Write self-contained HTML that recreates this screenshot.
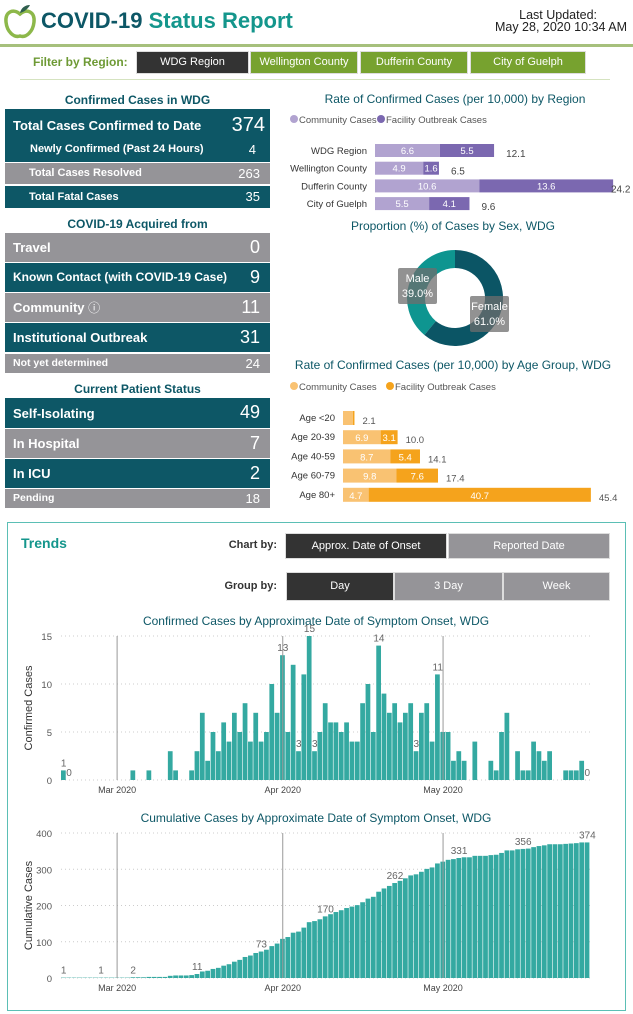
<!DOCTYPE html>
<html><head><meta charset="utf-8">
<style>
*{margin:0;padding:0;box-sizing:border-box}
body{width:633px;height:1014px;background:#fff;font-family:"Liberation Sans",sans-serif;position:relative;overflow:hidden}
.a{position:absolute}
.box{position:absolute;left:5px;width:265px;color:#fff;font-weight:bold}
.box .l{position:absolute;left:8px}
.box .v{position:absolute;right:10px;font-weight:normal}
.t{background:#0d5766}.g{background:#959498}
.st{position:absolute;left:5px;width:265px;text-align:center;color:#0d5766;font-weight:bold;font-size:12px}
.btn{position:absolute;color:#fff;font-size:11px;text-align:center;border:1px solid #ddd}
</style></head><body>
<svg class="a" style="left:3px;top:4px" width="34" height="36"><path d="M17 10 C10 4 2 8 3 18 C4 28 11 34 17 32 C23 34 30 28 31 18 C32 8 24 4 17 10Z" fill="none" stroke="#8db84a" stroke-width="3.5"/><path d="M17 9 C18 4 22 1 27 1 C25 5 21 8 17 9Z" fill="#2e5e4e"/></svg>
<div class="a" style="left:41px;top:8px;font-size:22px;font-weight:bold;color:#0d5766">COVID-19 <span style="color:#14968c">Status Report</span></div>
<div class="a" style="right:6px;top:9px;font-size:12.5px;text-align:right;color:#222;line-height:12px"><span style="margin-right:30px">Last Updated:</span><br>May 28, 2020 10:34 AM</div>
<div class="a" style="left:0;top:44px;width:633px;height:3px;background:#a6c07c"></div>
<div class="a" style="left:33px;top:55px;font-size:12px;font-weight:bold;color:#6e9a35">Filter by Region:</div>
<div class="btn" style="left:136px;top:51px;width:113px;height:23px;line-height:21px;background:#333">WDG Region</div>
<div class="btn" style="left:250px;top:51px;width:108px;height:23px;line-height:21px;background:#77a22f">Wellington County</div>
<div class="btn" style="left:360px;top:51px;width:108px;height:23px;line-height:21px;background:#77a22f">Dufferin County</div>
<div class="btn" style="left:470px;top:51px;width:116px;height:23px;line-height:21px;background:#77a22f">City of Guelph</div>
<div class="a" style="left:20px;top:79px;width:590px;height:1px;background:#d5e3c0"></div>

<div class="st" style="top:93px">Confirmed Cases in WDG</div>
<div class="box t" style="top:109px;height:53px"><span class="l" style="top:9px;font-size:13px">Total Cases Confirmed to Date</span><span class="v" style="top:5px;font-size:20px;right:5px">374</span><span class="l" style="left:25px;top:34px;font-size:11px">Newly Confirmed (Past 24 Hours)</span><span class="v" style="top:33px;font-size:13px;right:14px">4</span></div>
<div class="box g" style="top:163px;height:21px"><span class="l" style="left:24px;top:4px;font-size:11px">Total Cases Resolved</span><span class="v" style="top:3px;font-size:13px">263</span></div>
<div class="box t" style="top:186px;height:22px"><span class="l" style="left:24px;top:5px;font-size:11px">Total Fatal Cases</span><span class="v" style="top:3px;font-size:13px">35</span></div>

<div class="st" style="top:217px">COVID-19 Acquired from</div>
<div class="box g" style="top:233px;height:29px"><span class="l" style="top:7px;font-size:13px">Travel</span><span class="v" style="top:4px;font-size:18px">0</span></div>
<div class="box t" style="top:263px;height:29px"><span class="l" style="top:7px;font-size:12px">Known Contact (with COVID-19 Case)</span><span class="v" style="top:4px;font-size:18px">9</span></div>
<div class="box g" style="top:293px;height:29px"><span class="l" style="top:6px;font-size:13px">Community <span style="font-weight:normal;font-size:12px">ⓘ</span></span><span class="v" style="top:4px;font-size:18px">11</span></div>
<div class="box t" style="top:323px;height:29px"><span class="l" style="top:7px;font-size:13px">Institutional Outbreak</span><span class="v" style="top:4px;font-size:18px">31</span></div>
<div class="box g" style="top:354px;height:19px"><span class="l" style="top:3px;font-size:10.5px">Not yet determined</span><span class="v" style="top:2px;font-size:13px">24</span></div>

<div class="st" style="top:382px">Current Patient Status</div>
<div class="box t" style="top:398px;height:30px"><span class="l" style="top:8px;font-size:13px">Self-Isolating</span><span class="v" style="top:4px;font-size:18px">49</span></div>
<div class="box g" style="top:429px;height:29px"><span class="l" style="top:7px;font-size:13px">In Hospital</span><span class="v" style="top:4px;font-size:18px">7</span></div>
<div class="box t" style="top:459px;height:29px"><span class="l" style="top:7px;font-size:13px">In ICU</span><span class="v" style="top:4px;font-size:18px">2</span></div>
<div class="box g" style="top:489px;height:19px"><span class="l" style="top:3px;font-size:10.5px">Pending</span><span class="v" style="top:2px;font-size:13px">18</span></div>

<svg id="right" class="a" style="left:0;top:0" width="633" height="515"></svg>

<div class="a" style="left:7px;top:522px;width:619px;height:489px;border:1px solid #5bbfb5"></div>
<div class="a" style="left:21px;top:535px;font-size:14px;font-weight:bold;color:#14968c">Trends</div>
<div class="a" style="left:200px;top:539px;width:77px;text-align:right;font-size:11px;font-weight:bold;color:#333">Chart by:</div>
<div class="btn" style="left:285px;top:533px;width:162px;height:26px;line-height:24px;background:#333">Approx. Date of Onset</div>
<div class="btn" style="left:448px;top:533px;width:162px;height:26px;line-height:24px;background:#959498">Reported Date</div>
<div class="a" style="left:200px;top:580px;width:77px;text-align:right;font-size:11px;font-weight:bold;color:#333">Group by:</div>
<div class="btn" style="left:286px;top:572px;width:108px;height:29px;line-height:27px;background:#333">Day</div>
<div class="btn" style="left:394px;top:572px;width:109px;height:29px;line-height:27px;background:#959498">3 Day</div>
<div class="btn" style="left:503px;top:572px;width:107px;height:29px;line-height:27px;background:#959498">Week</div>

<svg id="trend" class="a" style="left:0;top:0" width="633" height="1014"></svg>

<script>
// Region chart data
const regions=["WDG Region","Wellington County","Dufferin County","City of Guelph"];
const regionCommunity=[6.6,4.9,10.6,5.5];
const regionFacility=[5.5,1.6,13.6,4.1];
const regionTotal=[12.1,6.5,24.2,9.6];
// Sex donut data
const sexLabels=["Male","Female"];
const sexPct=[39.0,61.0];
// Age chart data
const ages=["Age <20","Age 20-39","Age 40-59","Age 60-79","Age 80+"];
const ageCommunity=[1.8,6.9,8.7,9.8,4.7];
const ageFacility=[0.3,3.1,5.4,7.6,40.7];
const ageTotal=[2.1,10.0,14.1,17.4,45.4];
// Daily cases by onset (starting ~Feb 20, 2020)
const dailyCases=[1,0,0,0,0,0,0,0,0,0,0,0,0,1,0,0,1,0,0,0,3,1,0,0,1,
3,7,2,5,3,6,4,7,5,8,4,7,4,5,10,7,13,5,12,3,11,15,3,5,8,6,6,
5,6,4,4,8,10,5,14,9,7,8,6,7,8,3,7,8,4,11,5,5,2,3,2,0,4,0,0,2,1,5,7,0,3,1,1,4,3,2,3,0,0,1,1,1,2,0];
const dailyLabelIdx=[0,1,41,44,46,47,59,66,70,98];
const cumLabelIdx=[0,7,13,25,37,49,62,74,86,98];
const monthLabels=["Mar 2020","Apr 2020","May 2020"];
const monthIdx=[10.5,41.5,71.5];
const dailyTicks=[0,5,10,15];
const cumTicks=[0,100,200,300,400];

const NS="http://www.w3.org/2000/svg";
function mk(svg,tag,attrs,txt){const e=document.createElementNS(NS,tag);for(const k in attrs)e.setAttribute(k,attrs[k]);if(txt!==undefined)e.textContent=txt;svg.appendChild(e);return e;}
const F='"Liberation Sans",sans-serif';
const R=document.getElementById('right');

// Region chart
let t=mk(R,'text',{x:455,y:103,'text-anchor':'middle','font-size':12,fill:'#0d5766','font-family':F},"Rate of Confirmed Cases (per 10,000) by Region");

[["Community Cases",'#b1a3d0',290],["Facility Outbreak Cases",'#7b68b0',377]].forEach(([n,c,x])=>{
 let g=mk(R,'g',{});
 mk(g,'circle',{cx:x+4,cy:119,r:4,fill:c});mk(g,'text',{x:x+9,y:123,'font-size':9.5,fill:'#555','font-family':F},n);});
const rx=v=>375+v*9.84;
regions.forEach((r,i)=>{const y=144+i*17.7;
 let l=mk(R,'text',{x:367,y:y+10,'text-anchor':'end','font-size':9.5,fill:'#333','font-family':F},r);
 let b=mk(R,'rect',{x:rx(0),y:y,width:rx(regionCommunity[i])-rx(0),height:13,fill:'#b1a3d0'});
 let b2=mk(R,'rect',{x:rx(regionCommunity[i]),y:y,width:rx(regionFacility[i])-rx(0),height:13,fill:'#7b68b0'});
 mk(R,'text',{x:(rx(0)+rx(regionCommunity[i]))/2,y:y+10,'text-anchor':'middle','font-size':9.5,fill:'#fff','font-family':F},regionCommunity[i].toFixed(1));
 mk(R,'text',{x:rx(regionCommunity[i])+(rx(regionFacility[i])-rx(0))/2,y:y+10,'text-anchor':'middle','font-size':9.5,fill:'#fff','font-family':F},regionFacility[i].toFixed(1));
 mk(R,'text',{x:Math.min(rx(regionTotal[i])+12,611),y:y+13,'font-size':10,fill:'#444','font-family':F},regionTotal[i].toFixed(1));
});

// Donut
t=mk(R,'text',{x:453,y:230,'text-anchor':'middle','font-size':12,fill:'#0d5766','font-family':F},"Proportion (%) of Cases by Sex, WDG");

const cx=455,cy=298,ro=48,ri=30;const cols=['#0e9590','#0b5565'];
function arc(s,e,dir){const pt=(a,r)=>[cx+r*Math.sin(a*dir),cy-r*Math.cos(a*dir)];const L=(e-s)>Math.PI?1:0;const sw=dir>0?1:0;
 const [x1,y1]=pt(s,ro),[x2,y2]=pt(e,ro),[x3,y3]=pt(e,ri),[x4,y4]=pt(s,ri);
 return `M${x1} ${y1}A${ro} ${ro} 0 ${L} ${sw} ${x2} ${y2}L${x3} ${y3}A${ri} ${ri} 0 ${L} ${1-sw} ${x4} ${y4}Z`;}
let s1=mk(R,'path',{d:arc(0,2*Math.PI*sexPct[0]/100,-1),fill:cols[0]});
let s2=mk(R,'path',{d:arc(0,2*Math.PI*sexPct[1]/100-0.0001,1),fill:cols[1]});
[[398,268,sexLabels[0],sexPct[0]],[470,296,sexLabels[1],sexPct[1]]].forEach(([x,y,n,p])=>{
 let g=mk(R,'g',{});
 mk(g,'rect',{x:x,y:y,width:39,height:36,rx:2,fill:'rgba(110,110,110,0.75)'});
 mk(g,'text',{x:x+19.5,y:y+14,'text-anchor':'middle','font-size':11,fill:'#fff','font-family':F},n);
 mk(g,'text',{x:x+19.5,y:y+29,'text-anchor':'middle','font-size':11,fill:'#fff','font-family':F},p.toFixed(1)+'%');});

// Age chart
t=mk(R,'text',{x:453,y:369,'text-anchor':'middle','font-size':12,fill:'#0d5766','font-family':F},"Rate of Confirmed Cases (per 10,000) by Age Group, WDG");

[["Community Cases",'#f9c272',290],["Facility Outbreak Cases",'#f5a31c',386]].forEach(([n,c,x])=>{
 let g=mk(R,'g',{});
 mk(g,'circle',{cx:x+4,cy:386,r:4,fill:c});mk(g,'text',{x:x+9,y:390,'font-size':9.5,fill:'#555','font-family':F},n);});
const ax=v=>343+v*5.46;
ages.forEach((r,i)=>{const y=411+i*19.2;
 let l=mk(R,'text',{x:335,y:y+10,'text-anchor':'end','font-size':9.5,fill:'#333','font-family':F},r);
 let b=mk(R,'rect',{x:ax(0),y:y,width:ax(ageCommunity[i])-ax(0),height:14,fill:'#f9c272'});
 let b2=mk(R,'rect',{x:ax(ageCommunity[i]),y:y,width:ax(ageFacility[i])-ax(0),height:14,fill:'#f5a31c'});
 if(ageCommunity[i]>3){mk(R,'text',{x:(ax(0)+ax(ageCommunity[i]))/2,y:y+11,'text-anchor':'middle','font-size':9.5,fill:'#fff','font-family':F},ageCommunity[i].toFixed(1));
 mk(R,'text',{x:ax(ageCommunity[i])+(ax(ageFacility[i])-ax(0))/2,y:y+11,'text-anchor':'middle','font-size':9.5,fill:'#fff','font-family':F},ageFacility[i].toFixed(1));}
 mk(R,'text',{x:ax(ageTotal[i])+8,y:y+13,'font-size':9.5,fill:'#555','font-family':F},ageTotal[i].toFixed(1));
});

// Trend charts
const T=document.getElementById('trend');
const N=dailyCases.length;
const bx=i=>61+i*(529/N);const bw=529/N;
const cum=[];dailyCases.reduce((s,v,i)=>(cum[i]=s+v),0);
function chart(vals,labelIdx,ticks,maxV,y0,y1,title,ytitle,titleY,nm){
 const ys=v=>y0-(v/maxV)*(y0-y1);
 let tt=mk(T,'text',{x:316,y:titleY,'text-anchor':'middle','font-size':12,fill:'#0d5766','font-family':F},title);
 
 ticks.forEach(v=>{mk(T,'line',{x1:61,x2:590,y1:ys(v),y2:ys(v),stroke:'#ccc','stroke-dasharray':'1 3'});
  let tl=mk(T,'text',{x:52,y:ys(v)+4,'text-anchor':'end','font-size':9.5,fill:'#555','font-family':F},v);});
 let yt=mk(T,'text',{x:0,y:0,transform:`translate(32,${(y0+y1)/2}) rotate(-90)`,'text-anchor':'middle','font-size':11,fill:'#333','font-family':F},ytitle);
 
 vals.forEach((v,i)=>{if(v<=0)return;let r=mk(T,'rect',{x:bx(i),y:ys(v),width:bw-0.6,height:y0-ys(v),fill:'#34a9a1'});
  });
 monthIdx.forEach((m,k)=>{const x=bx(m);mk(T,'line',{x1:x,x2:x,y1:y1,y2:y0,stroke:'#999','stroke-width':1});
  let ml=mk(T,'text',{x:x,y:y0+13,'text-anchor':'middle','font-size':9,fill:'#444','font-family':F},monthLabels[k]);});
 labelIdx.forEach(i=>{let dl=mk(T,'text',{x:bx(i)+bw/2,y:ys(vals[i])-4,'text-anchor':'middle','font-size':10,fill:'#666','font-family':F},vals[i]);
  });
}
chart(dailyCases,dailyLabelIdx,dailyTicks,15,780,636,"Confirmed Cases by Approximate Date of Symptom Onset, WDG","Confirmed Cases",625,'daily-chart');
chart(cum,cumLabelIdx,cumTicks,400,978,833,"Cumulative Cases by Approximate Date of Symptom Onset, WDG","Cumulative Cases",822,'cumulative-chart');
</script>
</body></html>
